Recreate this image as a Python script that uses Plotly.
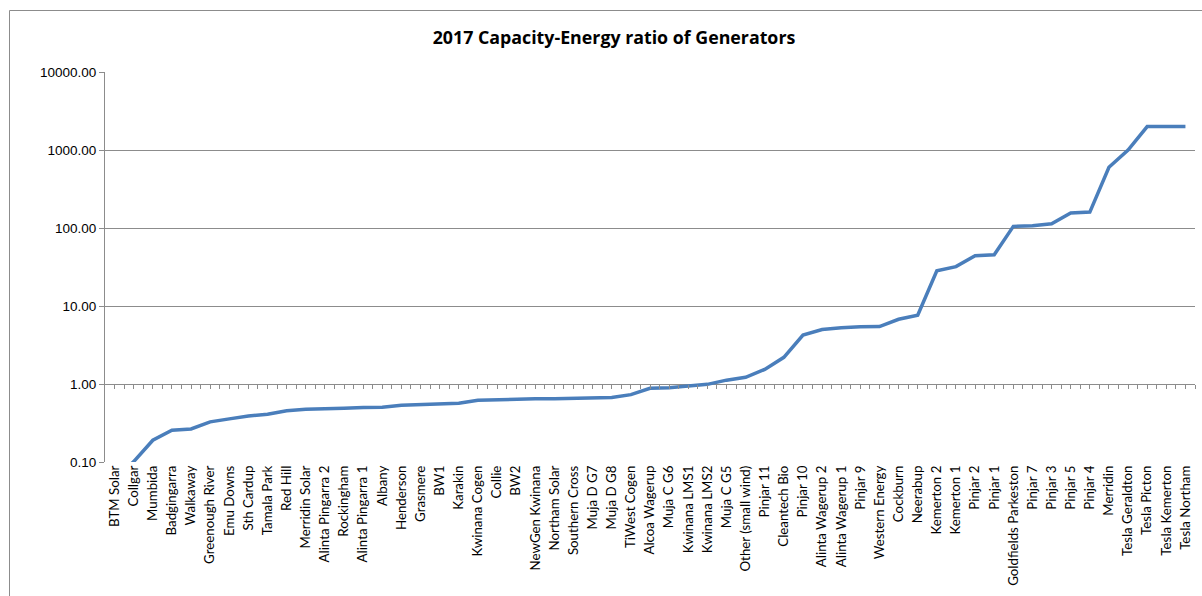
import numpy as np
import plotly.graph_objects as go

# Generators, sorted by capacity-energy ratio
generators = [
    "BTM Solar", "Collgar", "Mumbida", "Badgingarra", "Walkaway", "Greenough River",
    "Emu Downs", "Sth Cardup", "Tamala Park", "Red Hill", "Merridin Solar",
    "Alinta Pingarra 2", "Rockingham", "Alinta Pingarra 1", "Albany", "Henderson",
    "Grasmere", "BW1", "Karakin", "Kwinana Cogen", "Collie", "BW2", "NewGen Kwinana",
    "Northam Solar", "Southern Cross", "Muja D G7", "Muja D G8", "TiWest Cogen",
    "Alcoa Wagerup", "Muja C G6", "Kwinana LMS1", "Kwinana LMS2", "Muja C G5",
    "Other (small wind)", "Pinjar 11", "Cleantech Bio", "Pinjar 10", "Alinta Wagerup 2",
    "Alinta Wagerup 1", "Pinjar 9", "Western Energy", "Cockburn", "Neerabup",
    "Kemerton 2", "Kemerton 1", "Pinjar 2", "Pinjar 1", "Goldfields Parkeston",
    "Pinjar 7", "Pinjar 3", "Pinjar 5", "Pinjar 4", "Merridin", "Tesla Geraldton",
    "Tesla Picton", "Tesla Kemerton", "Tesla Northam",
]

ratio = [
    0.06, 0.101, 0.19, 0.255, 0.265, 0.327,
    0.357, 0.388, 0.41, 0.454, 0.473,
    0.475, 0.488, 0.50, 0.505, 0.533,
    0.545, 0.555, 0.566, 0.62, 0.633, 0.64, 0.645,
    0.648, 0.65, 0.665, 0.67, 0.73,
    0.88, 0.895, 0.94, 0.99, 1.12,
    1.22, 1.54, 2.2, 4.25, 5.0,
    5.27, 5.43, 5.45, 6.76, 7.6,
    28.2, 32.0, 44.0, 45.3, 105.0,
    107.0, 113.5, 156.0, 160.0, 600.0, 1000.0,
    2000.0, 2000.0, 2000.0,
]

y_ticks = [0.1, 1, 10, 100, 1000, 10000]
y_tick_text = ["0.10", "1.00", "10.00", "100.00", "1000.00", "10000.00"]

W, H = 1202, 596
L, R, T, B = 105, 7, 72, 134
pw, ph = W - L - R, H - T - B
grid = "#8c8c8c"
n = len(generators)

fig = go.Figure()
fig.add_trace(go.Scatter(
    x=generators, y=ratio, mode="lines",
    line=dict(color="#4a7ebb", width=3.5),
    showlegend=False, hoverinfo="x+y",
))
# carrier for the tick marks drawn along the 1.00 line
fig.add_trace(go.Scatter(x=[], y=[], xaxis="x2", showlegend=False, hoverinfo="skip"))

fig.update_layout(
    width=W, height=H,
    margin=dict(l=L, r=R, t=T, b=B),
    paper_bgcolor="white", plot_bgcolor="white",
    title=dict(
        text="<b>2017 Capacity-Energy ratio of Generators</b>",
        x=614 / W, xref="container", xanchor="center",
        y=1 - 38 / H, yref="container", yanchor="middle",
        font=dict(family="Open Sans, sans-serif", size=17.8, color="#000000"),
    ),
    xaxis=dict(
        type="category", range=[-0.5, n - 0.5],
        showgrid=False, zeroline=False, showline=False, ticks="",
        tickangle=-90,
        tickfont=dict(family="Lato, Open Sans, sans-serif", size=13.3, color="#000000"),
    ),
    xaxis2=dict(
        type="linear", overlaying="x", anchor="free", position=0.2,
        range=[-0.5, n - 0.5],
        tickmode="array", tickvals=list(np.arange(0, n - 0.49, 0.5)),
        ticks="outside", ticklen=4, tickwidth=1, tickcolor=grid,
        showticklabels=False, showgrid=False, zeroline=False, showline=False,
    ),
    yaxis=dict(
        type="log", range=[-1, 4],
        tickmode="array", tickvals=y_ticks, ticktext=y_tick_text,
        showgrid=True, gridcolor=grid, gridwidth=1,
        showline=True, linecolor=grid, linewidth=1,
        ticks="outside", ticklen=5, tickcolor=grid,
        zeroline=False,
        tickfont=dict(family="Liberation Sans, Arial, sans-serif", size=13.5, color="#000000"),
    ),
    shapes=[dict(
        type="rect", xref="paper", yref="paper",
        x0=(9.5 - L) / pw, x1=(W + 5 - L) / pw,
        y0=(H - B - (H + 5)) / ph, y1=(H - B - 10.5) / ph,
        line=dict(color=grid, width=1), fillcolor="rgba(0,0,0,0)", layer="below",
    )],
)

fig.write_html("out.html")
